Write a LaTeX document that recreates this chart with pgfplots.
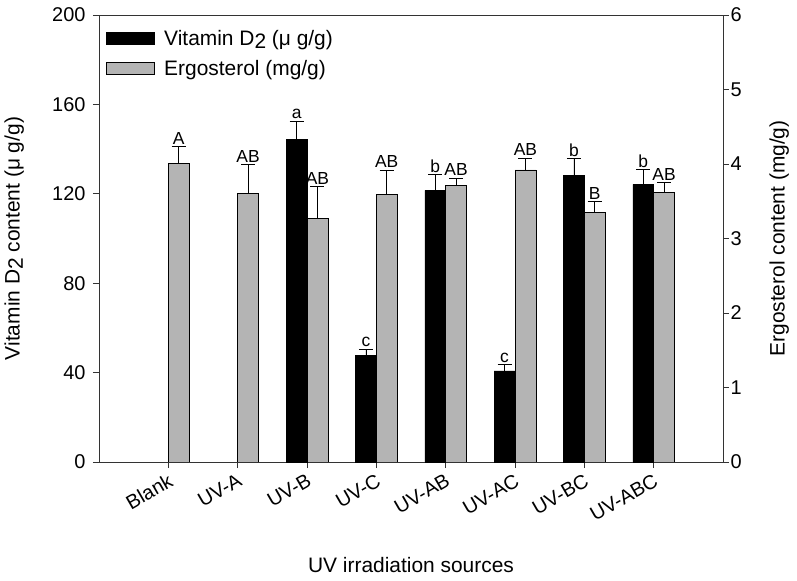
\documentclass[border=0pt]{standalone}
\usepackage{pgfplots}
\pgfplotsset{compat=1.18}
\usepackage{pgfplotstable}
\usepackage{fontspec}
\setmainfont{Liberation Sans}
\definecolor{ergo}{RGB}{180,180,180}

\pgfplotstableread{
x y e t l
2 144.4 8.2 152.6 a
3 47.8 2.7 50.5 c
4 121.5 7.1 128.6 b
5 40.8 2.7 43.5 c
6 128.4 7.3 135.7 b
7 124.2 6.7 130.9 b
}\vitd

\pgfplotstableread{
x y e t l
0 4.01 0.22 4.23 A
1 3.60 0.39 3.99 AB
2 3.27 0.43 3.70 AB
3 3.59 0.33 3.92 AB
4 3.71 0.10 3.81 AB
5 3.92 0.16 4.08 AB
6 3.35 0.15 3.50 B
7 3.62 0.13 3.75 AB
}\ergo

\begin{document}
\begin{tikzpicture}
\useasboundingbox (-99bp,-119bp) rectangle (698bp,462bp);
\pgfplotsset{
  common/.style={
    width=624bp, height=447bp, scale only axis,
    xmin=-1, xmax=8,
    ybar, bar width=0.3,
    tick align=outside, major tick length=6bp,
    /pgf/number format/assume math mode=true,
    tick label style={font=\fontsize{20}{22}\selectfont, black},
    label style={font=\fontsize{21}{24}\selectfont},
    axis line style={black!80, line width=0.8bp},
    tick style={black!80, line width=0.8bp},
    error bars/error bar style={black, line width=0.8bp},
    error bars/error mark=-,
    error bars/error mark options={rotate=90, black, line width=0.8bp, mark size=7bp},
    lbl/.style={forget plot, draw=none, fill=none, nodes near coords,
      point meta=explicit symbolic,
      every node near coord/.append style={font=\fontsize{17.5}{19}\selectfont, black, inner sep=2bp, anchor=south}},
  }
}
\begin{axis}[common,
  ymin=0, ymax=200, ytick={0,40,...,200},
  xtick={0,...,7},
  xticklabels={Blank,UV-A,UV-B,UV-C,UV-AB,UV-AC,UV-BC,UV-ABC},
  xticklabel style={rotate=30, anchor=north east},
  yticklabel style={xshift=-4bp},
  xtick pos=bottom, ytick pos=left,
  ylabel={Vitamin D\raisebox{-0.3ex}{2} content (μ g/g)},
  ylabel style={at={(axis description cs:-0.136,0.5)}, anchor=center},
  xlabel={UV irradiation sources},
  xlabel style={at={(axis description cs:0.5,-0.23)}, anchor=center},
  legend style={draw=none, fill=none, at={(axis description cs:0.006,0.975)}, anchor=north west,
    font=\fontsize{21}{24}\selectfont, row sep=9bp},
  legend cell align=left,
]
\addplot[forget plot, fill=black, draw=black, line width=0.6bp, bar shift=-0.15,
  error bars/.cd, y dir=plus, y explicit] table[x=x, y=y, y error=e] {\vitd};
\addplot[lbl, bar shift=-0.15] table[x=x, y=t, meta=l] {\vitd};
\addlegendimage{legend image code/.code={\draw[fill=black, draw=black, line width=0.6bp] (0bp,-6bp) rectangle (48bp,6bp); \path[draw=none, fill=none] (48bp,0bp) -- (56bp,0bp);}}
\addlegendentry{Vitamin D\raisebox{-0.3ex}{2} (μ g/g)}
\addlegendimage{legend image code/.code={\draw[fill=ergo, draw=black, line width=0.6bp] (0bp,-6bp) rectangle (48bp,6bp); \path[draw=none, fill=none] (48bp,0bp) -- (56bp,0bp);}}
\addlegendentry{Ergosterol (mg/g)}
\end{axis}
\begin{axis}[common,
  ymin=0, ymax=6, ytick={0,...,6},
  axis y line*=right, axis x line=none, xtick=\empty,
  yticklabel style={xshift=-2bp},
  ylabel={Ergosterol content (mg/g)},
  ylabel style={at={(axis description cs:1.09,0.5)}, anchor=center},
]
\addplot[forget plot, fill=ergo, draw=black, line width=0.6bp, bar shift=0.15,
  error bars/.cd, y dir=plus, y explicit] table[x=x, y=y, y error=e] {\ergo};
\addplot[lbl, bar shift=0.15] table[x=x, y=t, meta=l] {\ergo};
\end{axis}
\end{tikzpicture}
\end{document}
